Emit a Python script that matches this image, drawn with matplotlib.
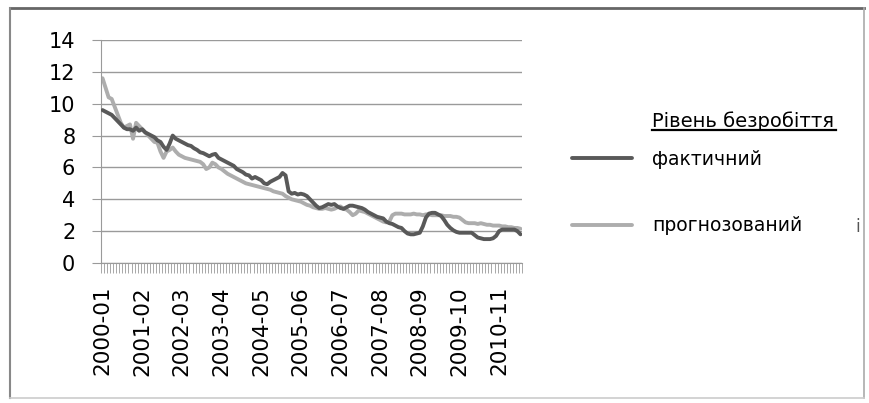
import matplotlib
matplotlib.use("Agg")
import matplotlib.pyplot as plt
from matplotlib.lines import Line2D

actual = [9.6, 9.5, 9.4, 9.3, 9.1, 8.9, 8.7, 8.5, 8.4, 8.4, 8.3, 8.5,
          8.3, 8.4, 8.2, 8.1, 8.0, 7.9, 7.7, 7.6, 7.3, 7.1, 7.5, 8.0,
          7.8, 7.7, 7.6, 7.5, 7.4, 7.35, 7.2, 7.1, 6.95, 6.9, 6.8, 6.7,
          6.8, 6.85, 6.6, 6.5, 6.4, 6.3, 6.2, 6.1, 5.9, 5.8, 5.7, 5.55,
          5.5, 5.3, 5.4, 5.3, 5.2, 5.0, 4.95, 5.1, 5.2, 5.3, 5.4, 5.65,
          5.5, 4.5, 4.35, 4.4, 4.3, 4.35, 4.3, 4.2, 4.0, 3.8, 3.6, 3.45,
          3.5, 3.6, 3.7, 3.65, 3.7, 3.55, 3.45, 3.4, 3.5, 3.6, 3.6, 3.55,
          3.5, 3.45, 3.35, 3.2, 3.1, 3.0, 2.9, 2.85, 2.8, 2.6, 2.5, 2.45,
          2.35, 2.25, 2.2, 2.0, 1.85, 1.8, 1.8, 1.85, 1.9, 2.3, 2.85, 3.1,
          3.15, 3.15, 3.05, 2.95, 2.7, 2.4, 2.2, 2.05, 1.95, 1.9, 1.9, 1.9,
          1.9, 1.9, 1.75, 1.6, 1.55, 1.5, 1.5, 1.5, 1.55, 1.7, 2.0, 2.1,
          2.1, 2.1, 2.1, 2.1, 2.0, 1.8]

forecast = [11.6, 11.0, 10.4, 10.3, 9.8, 9.3, 8.8, 8.5, 8.6, 8.7, 7.8, 8.8,
            8.6, 8.4, 8.2, 8.0, 7.8, 7.6, 7.55, 7.0, 6.6, 7.0, 7.1, 7.25,
            7.0, 6.8, 6.7, 6.6, 6.55, 6.5, 6.45, 6.4, 6.35, 6.2, 5.9, 6.0,
            6.3, 6.2, 6.0, 5.9, 5.75, 5.6, 5.5, 5.4, 5.3, 5.2, 5.1, 5.0,
            4.95, 4.9, 4.85, 4.8, 4.75, 4.7, 4.65, 4.6, 4.5, 4.45, 4.4, 4.35,
            4.2, 4.1, 4.0, 3.95, 3.9, 3.85, 3.75, 3.65, 3.6, 3.5, 3.45, 3.4,
            3.4, 3.45, 3.4, 3.35, 3.4, 3.5, 3.55, 3.4, 3.35, 3.2, 3.0, 3.1,
            3.3, 3.25, 3.2, 3.1, 3.0, 2.9, 2.8, 2.7, 2.6, 2.55, 2.6, 3.0,
            3.1, 3.1, 3.1, 3.05, 3.05, 3.05, 3.1, 3.05, 3.05, 3.0, 3.05, 3.05,
            3.0, 3.0, 3.0, 3.0, 2.95, 2.95, 2.95, 2.9, 2.9, 2.85, 2.7, 2.55,
            2.5, 2.5, 2.5, 2.45, 2.5, 2.45, 2.4, 2.4, 2.35, 2.35, 2.35, 2.3,
            2.3, 2.25, 2.25, 2.2, 2.2, 2.15]

tick_labels = ["2000-01", "2001-02", "2002-03", "2003-04", "2004-05", "2005-06",
               "2006-07", "2007-08", "2008-09", "2009-10", "2010-11"]
y_ticks = [0, 2, 4, 6, 8, 10, 12, 14]
legend_title = "Рівень безробіття"
series_names = ["фактичний", "прогнозований"]

plt.rcParams['font.family'] = ['DejaVu Sans']

fig = plt.figure(figsize=(8.69, 4.03), dpi=100)
W, H = 869, 403
ax = fig.add_axes([101 / W, 1 - 263 / H, (522 - 101) / W, (263 - 40) / H])

x = list(range(len(actual)))
l1, = ax.plot(x, actual, color="#595959", lw=2.8, solid_capstyle="round",
              solid_joinstyle="round", zorder=3)
l2, = ax.plot(x, forecast, color="#adadad", lw=2.8, solid_capstyle="round",
              solid_joinstyle="round", zorder=2)

ax.set_xlim(-0.5, len(actual) - 0.5)
ax.set_ylim(0, 14)
ax.set_yticks(y_ticks)
ax.set_yticklabels([str(v) for v in y_ticks], fontsize=15)
ax.grid(axis="y", color="#9a9a9a", lw=1)
ax.set_axisbelow(True)

major_pos = [13 * i for i in range(len(tick_labels))]
ax.set_xticks(major_pos)
ax.set_xticklabels(tick_labels, rotation=90, fontsize=15.5, va="top")
ax.set_xticks([i + 0.5 for i in range(-1, len(actual))], minor=True)
ax.tick_params(axis="x", which="major", length=0, pad=16.5)
ax.tick_params(axis="x", which="minor", length=7, color="#9a9a9a", direction="out")
ax.tick_params(axis="y", length=6.5, color="#9a9a9a", pad=12)

for s in ["top", "right"]:
    ax.spines[s].set_visible(False)
ax.spines["left"].set_color("#9a9a9a")
ax.spines["bottom"].set_color("#9a9a9a")

leg = fig.legend([l1, l2], series_names, loc="upper left",
                 bbox_to_anchor=(555 / W, 1 - 133 / H), frameon=False,
                 fontsize=13.5, handlelength=3.2, handletextpad=1.07,
                 labelspacing=2.53)
fig.text(652 / W, 1 - 127 / H, legend_title, fontsize=14, ha="left", va="baseline")
fig.add_artist(Line2D([652 / W, 836 / W], [1 - 130 / H, 1 - 130 / H],
                      color="black", lw=1.6))
fig.text(855 / W, 1 - 227 / H, "i", fontsize=12, color="#555555", ha="left", va="center")

# outer frame
fig.add_artist(Line2D([10 / W, 864 / W], [1 - 8 / H, 1 - 8 / H], color="#666666", lw=2))
fig.add_artist(Line2D([10 / W, 10 / W], [1 - 8 / H, 1 - 398 / H], color="#888888", lw=1.5))
fig.add_artist(Line2D([864 / W, 864 / W], [1 - 8 / H, 1 - 398 / H], color="#aaaaaa", lw=1.2))
fig.add_artist(Line2D([10 / W, 864 / W], [1 - 398 / H, 1 - 398 / H], color="#cccccc", lw=1.2))

fig.savefig("out.png", dpi=100)
